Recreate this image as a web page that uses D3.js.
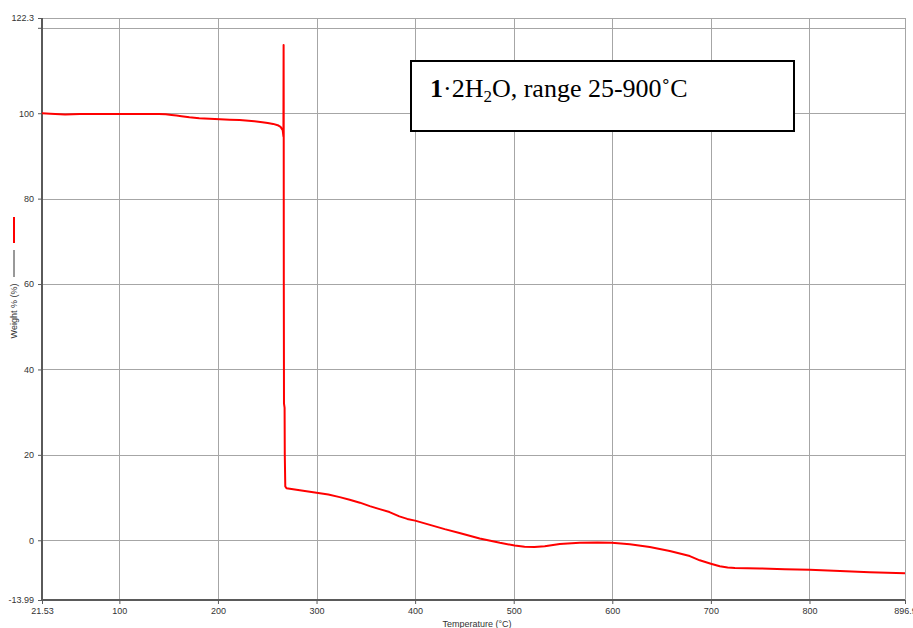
<!DOCTYPE html>
<html>
<head>
<meta charset="utf-8">
<script src="https://cdn.jsdelivr.net/npm/d3@7"></script>
<style>
  html, body { margin: 0; padding: 0; background: #fff; }
  svg { display: block; }
</style>
</head>
<body>
<svg id="chart" width="913" height="628"></svg>
<script>
// TGA trace of 1·2H2O: temperature (°C) and weight (%)
const temperature = [21.5, 30, 45, 60, 80, 100, 120, 140, 147, 153, 158, 163, 171, 181, 191.6, 202, 212, 222, 237, 245, 250.5, 256, 260.6, 263.5, 265.7, 266.4, 266.6, 266.7, 266.8, 267.0, 267.6, 267.8, 268.3, 269.5, 283, 300, 312, 323.5, 333.6, 344, 354, 364, 374, 384, 392, 400, 415, 430, 445, 465.5, 486, 501, 511, 521, 531.5, 546.7, 567, 585, 599.5, 617.8, 638, 658.3, 678.6, 688.7, 700, 709, 717, 724.4, 749.7, 775, 800, 831, 861, 896.9];
const weight      = [100.0, 99.9, 99.7, 99.8, 99.8, 99.8, 99.8, 99.8, 99.75, 99.6, 99.45, 99.3, 99.05, 98.85, 98.7, 98.6, 98.5, 98.4, 98.1, 97.9, 97.7, 97.5, 97.2, 96.8, 96.0, 94.6, 116.0, 102.6, 60.0, 32.0, 31.0, 20.0, 12.6, 12.2, 11.7, 11.1, 10.7, 10.1, 9.5, 8.8, 8.0, 7.3, 6.6, 5.6, 5.0, 4.6, 3.6, 2.6, 1.7, 0.4, -0.6, -1.25, -1.5, -1.55, -1.4, -0.9, -0.6, -0.55, -0.6, -0.95, -1.6, -2.5, -3.7, -4.7, -5.5, -6.1, -6.4, -6.5, -6.6, -6.8, -6.9, -7.2, -7.5, -7.7];

const xDomain = [21.53, 896.9];
const yDomain = [-13.99, 122.3];
const xTicks = [21.53, 100, 200, 300, 400, 500, 600, 700, 800, 896.9];
const xGrid = [100, 200, 300, 400, 500, 600, 700, 800];
const yTicks = [-13.99, 0, 20, 40, 60, 80, 100, 120, 122.3];
const yTickLabels = ["-13.99", "0", "20", "40", "60", "80", "100", "", "122.3"];
const yGrid = [0, 20, 40, 60, 80, 100, 120];

const title = "range 25-900˚C";

const svg = d3.select("#chart");
const plotLeft = 42, plotRight = 905, plotTop = 18, plotBottom = 600;

const x = d3.scaleLinear().domain(xDomain).range([plotLeft, plotRight]);
const y = d3.scaleLinear().domain(yDomain).range([plotBottom, plotTop]);

// grid
const grid = svg.append("g").attr("stroke", "#a6a6a6").attr("stroke-width", 1).attr("shape-rendering", "crispEdges");
grid.selectAll("line.v").data(xGrid).join("line").attr("class", "v")
  .attr("x1", d => Math.round(x(d)) + 0.5).attr("x2", d => Math.round(x(d)) + 0.5)
  .attr("y1", plotTop).attr("y2", plotBottom);
grid.selectAll("line.h").data(yGrid).join("line").attr("class", "h")
  .attr("x1", plotLeft).attr("x2", plotRight)
  .attr("y1", d => Math.round(y(d)) + 0.5).attr("y2", d => Math.round(y(d)) + 0.5);

// frame: top and right edges
svg.append("line").attr("x1", plotLeft).attr("x2", plotRight).attr("y1", plotTop + 0.5).attr("y2", plotTop + 0.5)
  .attr("stroke", "#a6a6a6").attr("shape-rendering", "crispEdges");
svg.append("line").attr("x1", plotRight + 0.5).attr("x2", plotRight + 0.5).attr("y1", plotTop).attr("y2", plotBottom)
  .attr("stroke", "#a6a6a6").attr("shape-rendering", "crispEdges");

// axes
const yAxis = d3.axisLeft(y).tickValues(yTicks).tickSize(4).tickPadding(4)
  .tickFormat((d, i) => yTickLabels[i]);
const xAxis = d3.axisBottom(x).tickValues(xTicks).tickSize(4).tickPadding(4)
  .tickFormat(d => d3.format("")(d));

const gy = svg.append("g").attr("transform", `translate(${plotLeft},0)`).call(yAxis);
const gx = svg.append("g").attr("transform", `translate(0,${plotBottom})`).call(xAxis);
[gx, gy].forEach(g => {
  g.select(".domain").attr("stroke", "#5a5a5a").attr("stroke-width", 2);
  g.selectAll(".tick line").attr("stroke", "#5a5a5a");
  g.selectAll(".tick text").attr("fill", "#333").attr("font-family", "Liberation Sans, Arial, sans-serif").attr("font-size", 9);
});
gy.select(".domain").attr("d", `M0,${plotTop}V${plotBottom}`);
gx.select(".domain").attr("d", `M${plotLeft},0H${plotRight}`);

// axis titles
svg.append("text").attr("x", 477).attr("y", 627).attr("text-anchor", "middle")
  .attr("font-family", "Liberation Sans, Arial, sans-serif").attr("font-size", 9).attr("fill", "#333")
  .text("Temperature (°C)");
svg.append("text").attr("transform", "translate(17,311) rotate(-90)").attr("text-anchor", "middle")
  .attr("font-family", "Liberation Sans, Arial, sans-serif").attr("font-size", 9).attr("fill", "#333")
  .text("Weight % (%)");
svg.append("line").attr("x1", 14).attr("x2", 14).attr("y1", 250).attr("y2", 277).attr("stroke", "#333").attr("stroke-width", 1);
svg.append("line").attr("x1", 14).attr("x2", 14).attr("y1", 217).attr("y2", 243).attr("stroke", "#ff0000").attr("stroke-width", 2);

// weight curve
const data = temperature.map((t, i) => [t, weight[i]]);
svg.append("path").datum(data)
  .attr("fill", "none").attr("stroke", "#ff0000").attr("stroke-width", 2).attr("stroke-linejoin", "round")
  .attr("d", d3.line().x(d => x(d[0])).y(d => y(d[1])));

// annotation box
const box = svg.append("g");
box.append("rect").attr("x", 411).attr("y", 61).attr("width", 383).attr("height", 70)
  .attr("fill", "#fff").attr("stroke", "#000").attr("stroke-width", 2);
const t = box.append("text").attr("x", 430).attr("y", 97)
  .attr("font-family", "Liberation Serif, Times New Roman, serif").attr("font-size", 26).attr("fill", "#000");
t.append("tspan").attr("font-weight", "bold").text("1");
t.append("tspan").text("·2H");
t.append("tspan").attr("font-size", 17).attr("dy", 5).text("2");
t.append("tspan").attr("dy", -5).text("O, " + title);
</script>
</body>
</html>
